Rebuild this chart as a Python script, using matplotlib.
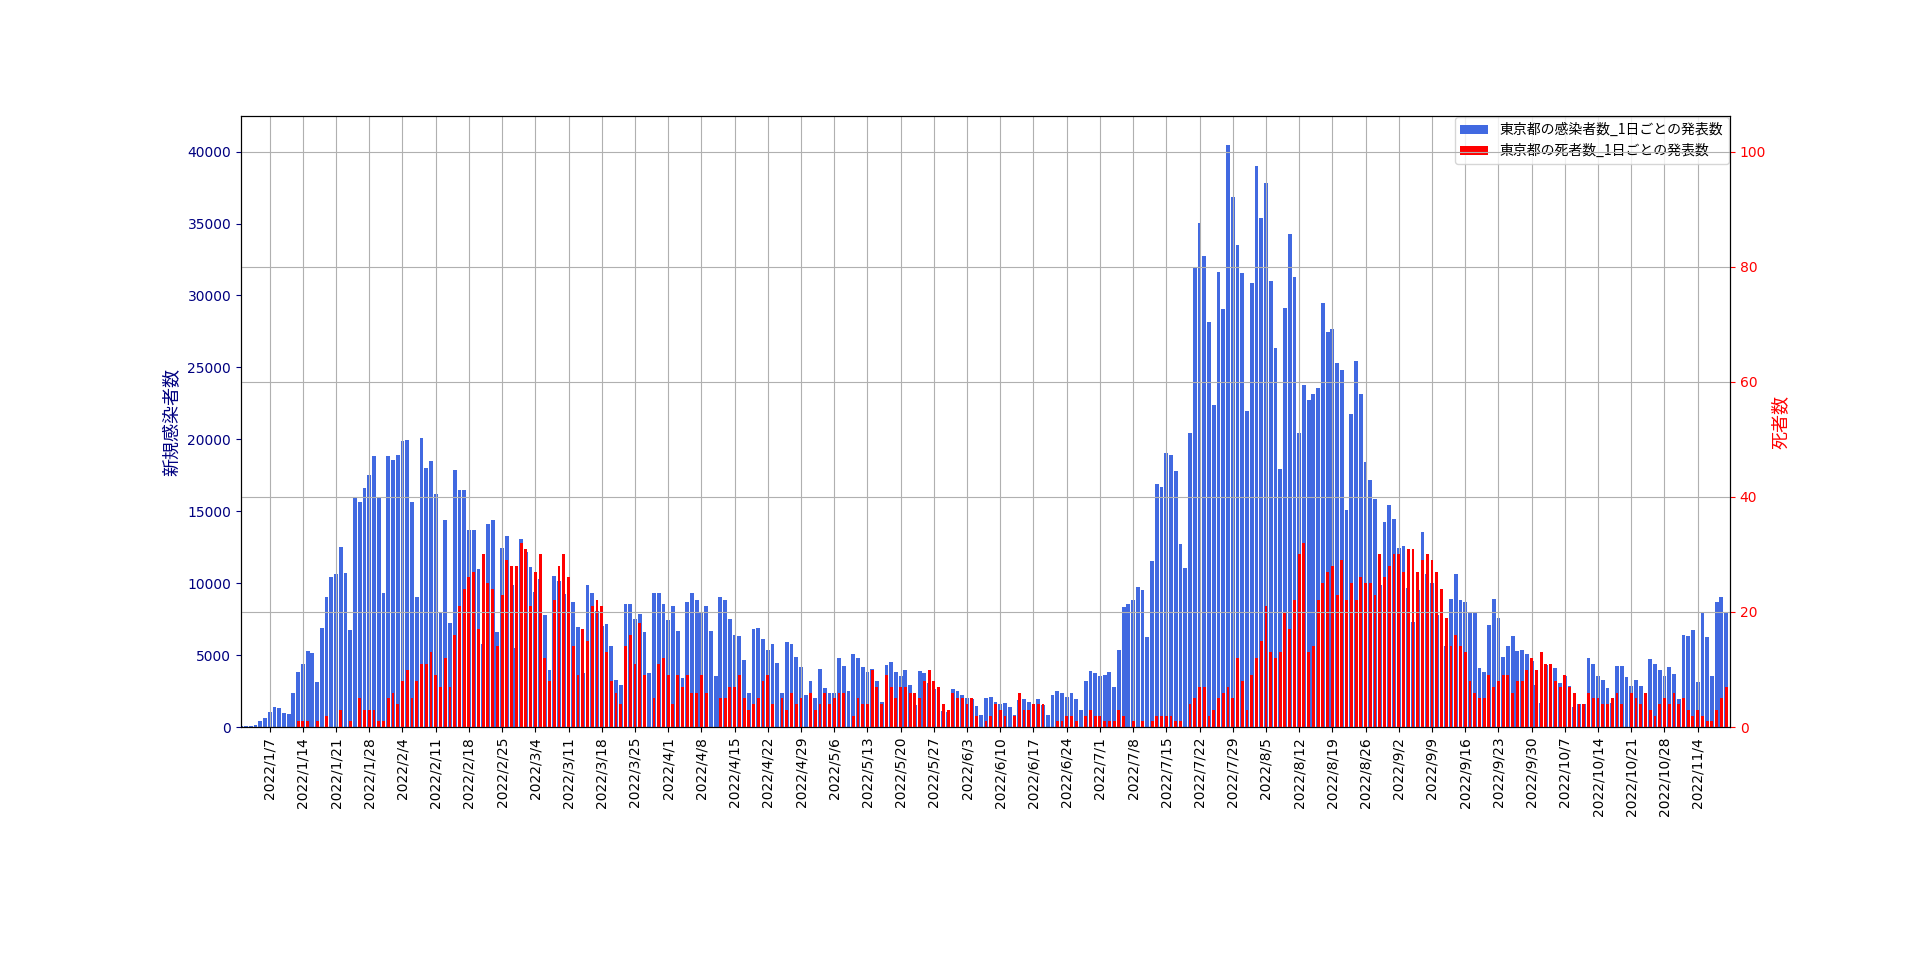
import matplotlib
matplotlib.use('Agg')
import matplotlib.pyplot as plt
import matplotlib.dates as mdates
import matplotlib.ticker as mticker
import pandas as pd

plt.rcParams['font.family'] = ['DejaVu Sans']
JP = ['Noto Sans CJK JP', 'DejaVu Sans']

start_date = '2022-01-01'

infections = [
    80, 80, 100, 150, 390, 640, 1030, 1370, 1310, 950,
    900, 2400, 3800, 4360, 5280, 5140, 3100, 6870, 9020, 10420,
    10610, 12490, 10700, 6730, 15920, 15610, 16590, 17510, 18830, 15920,
    9300, 18830, 18550, 18940, 19860, 19920, 15610, 9050, 20060, 18040,
    18460, 16170, 7990, 14390, 7210, 17850, 16450, 16450, 13690, 13690,
    10980, 5750, 14110, 14390, 6620, 12430, 13270, 9860, 5470, 13040,
    12150, 11150, 9360, 10280, 7770, 3970, 10470, 10140, 9220, 7990,
    8660, 6930, 3740, 9860, 9300, 8100, 7000, 7150, 5600, 3300,
    2930, 8520, 8520, 7490, 7850, 6590, 3740, 9300, 9300, 8520,
    7430, 8410, 6650, 3380, 8660, 9300, 8800, 7990, 8410, 6650,
    3520, 9020, 8800, 7490, 6370, 6310, 4640, 2350, 6790, 6870,
    6090, 5390, 5750, 4440, 2400, 5890, 5750, 4860, 4160, 2260,
    3180, 2010, 4020, 2680, 2400, 2400, 4780, 4220, 2490, 5060,
    4780, 4160, 3800, 4020, 3180, 1730, 4300, 4500, 3800, 3520,
    3940, 2900, 1510, 3880, 3740, 3040, 2630, 1930, 1090, 1060,
    2630, 2490, 2260, 2010, 1930, 1450, 810, 2010, 2070, 1730,
    1590, 1650, 1370, 810, 1870, 1930, 1730, 1590, 1930, 1510,
    810, 2260, 2490, 2350, 2070, 2350, 1930, 1170, 3180, 3880,
    3740, 3520, 3600, 3800, 2770, 5340, 8320, 8520, 8800, 9720,
    9500, 6230, 11540, 16870, 16680, 19020, 18880, 17790, 12710, 11030,
    20420, 31900, 35030, 32740, 28130, 22370, 31620, 29050, 40450, 36820,
    33490, 31540, 21960, 30840, 39000, 35360, 37790, 30980, 26340, 17910,
    29110, 34250, 31260, 20420, 23770, 22710, 23130, 23550, 29470, 27430,
    27650, 25280, 24800, 15060, 21730, 25420, 23130, 18410, 17150, 15840,
    9860, 14250, 15420, 14440, 12430, 12570, 9660, 7320, 9520, 13550,
    10610, 10000, 7770, 5670, 5610, 8880, 10610, 8800, 8660, 7990,
    7990, 4080, 3800, 7070, 8880, 7570, 4860, 5610, 6310, 5280,
    5340, 5060, 4580, 2900, 1650, 4300, 4160, 4080, 3040, 3520,
    2820, 1370, 1600, 1600, 4780, 4360, 3520, 3240, 2680, 1700,
    4220, 4220, 3460, 2820, 3240, 2820, 1730, 4720, 4360, 3940,
    3520, 4160, 3660, 1980, 6400, 6310, 6730, 3100, 7930, 6230,
    3520, 8690, 9020, 7930,
]

deaths = [
    0, 0, 0, 0, 0, 0, 0, 0, 0, 0,
    0, 0, 1, 1, 1, 0, 1, 0, 2, 0,
    0, 3, 0, 1, 0, 5, 3, 3, 3, 1,
    1, 5, 6, 4, 8, 10, 5, 8, 11, 11,
    13, 9, 7, 12, 7, 16, 21, 24, 26, 27,
    17, 30, 25, 24, 14, 23, 29, 28, 28, 32,
    31, 21, 27, 30, 12, 8, 22, 28, 30, 26,
    14, 9, 17, 15, 21, 22, 21, 13, 8, 6,
    4, 14, 16, 11, 18, 9, 0, 5, 11, 12,
    9, 4, 9, 7, 9, 6, 6, 9, 6, 0,
    0, 5, 5, 7, 7, 9, 5, 3, 4, 5,
    8, 9, 4, 0, 5, 3, 6, 4, 5, 0,
    6, 3, 4, 6, 4, 5, 6, 6, 0, 2,
    5, 4, 4, 10, 7, 4, 9, 7, 5, 7,
    7, 6, 6, 5, 8, 10, 8, 7, 4, 3,
    6, 5, 5, 4, 5, 2, 0, 1, 2, 4,
    3, 2, 0, 2, 6, 3, 3, 4, 4, 4,
    0, 0, 1, 1, 2, 2, 1, 0, 2, 3,
    2, 2, 1, 1, 1, 3, 2, 0, 1, 0,
    1, 0, 1, 2, 2, 2, 2, 1, 1, 0,
    4, 5, 7, 7, 2, 3, 5, 6, 7, 5,
    12, 8, 3, 9, 12, 15, 21, 13, 12, 13,
    20, 17, 22, 30, 32, 13, 14, 22, 25, 27,
    28, 23, 29, 22, 25, 22, 26, 25, 25, 23,
    30, 26, 28, 30, 30, 27, 31, 31, 27, 29,
    30, 29, 27, 24, 19, 14, 16, 14, 13, 8,
    6, 5, 5, 9, 7, 8, 9, 9, 6, 8,
    8, 10, 12, 10, 13, 11, 11, 8, 7, 9,
    7, 6, 4, 4, 6, 5, 5, 4, 4, 5,
    6, 4, 0, 6, 5, 4, 6, 3, 2, 4,
    5, 4, 6, 4, 5, 3, 2, 3, 2, 1,
    1, 3, 5, 7,
]

label_inf = '東京都の感染者数_1日ごとの発表数'
label_death = '東京都の死者数_1日ごとの発表数'
ylabel_left = '新規感染者数'
ylabel_right = '死者数'

dates = pd.date_range(start_date, periods=len(infections), freq='D')
x = mdates.date2num(dates)

fig = plt.figure(figsize=(19.2, 9.69), dpi=100)
ax1 = fig.add_axes([0.1255, 0.2497, 0.7755, 0.6305])
b1 = ax1.bar(x, infections, width=0.8, color='royalblue', label=label_inf)
ax2 = ax1.twinx()
b2 = ax2.bar(x, deaths, width=0.6, color='red', label=label_death)

ax1.set_ylim(0, max(infections) * 1.05)
ax2.set_ylim(0, ax1.get_ylim()[1] / 400)
ax1.set_xlim(x[0] - 0.05, x[-1] + 0.8)

ax1.xaxis.set_major_locator(mdates.WeekdayLocator(byweekday=mdates.FR))


def fmt(v, pos):
    d = mdates.num2date(v)
    return f"{d.year}/{d.month}/{d.day}"


ax1.xaxis.set_major_formatter(mticker.FuncFormatter(fmt))
for lab in ax1.get_xticklabels():
    lab.set_rotation(90)

ax1.tick_params(axis='y', colors='navy')
ax2.tick_params(axis='y', colors='red')
ax1.set_ylabel(ylabel_left, color='navy', fontsize=13, family=JP)
ax2.set_ylabel(ylabel_right, color='red', fontsize=13, family=JP)

ax1.grid(axis='x')
ax2.grid(axis='y')

ax1.legend([b1, b2], [label_inf, label_death], loc='upper right',
           borderaxespad=0.1, prop={'family': JP})

fig.savefig('out.png', dpi=100)
